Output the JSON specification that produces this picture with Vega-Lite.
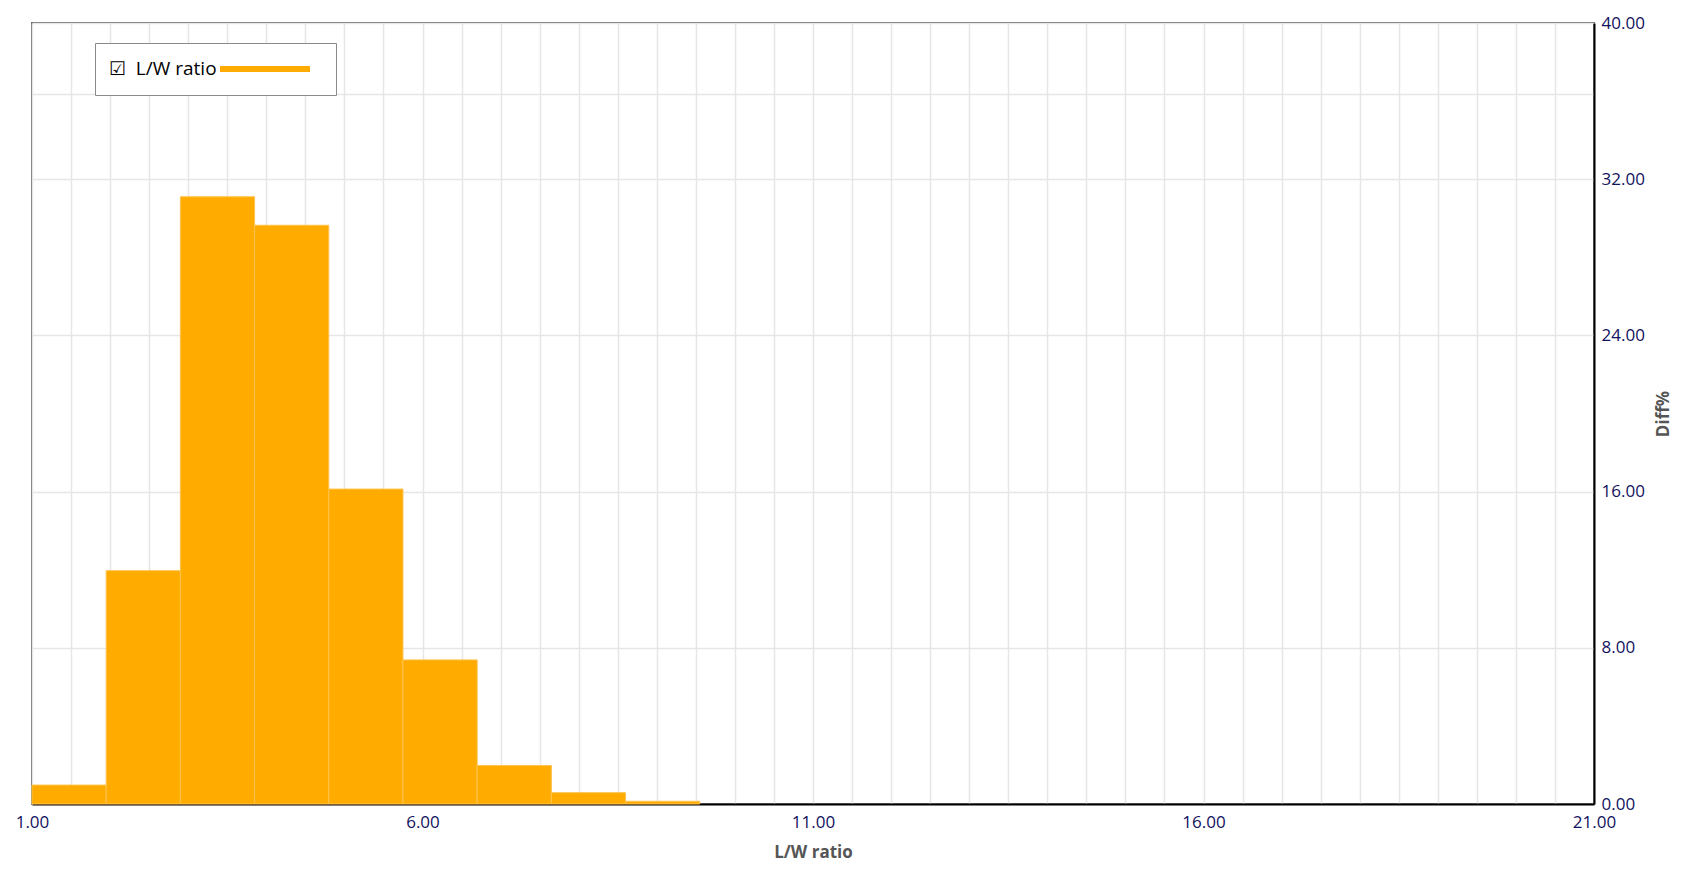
{
  "$schema": "https://vega.github.io/schema/vega-lite/v6.json",
  "width": 1562,
  "height": 781,
  "autosize": {"type": "none"},
  "padding": {"left": 32, "top": 23, "right": 97, "bottom": 72},
  "background": "white",
  "config": {
    "view": {"stroke": "#6a6a6a", "strokeWidth": 2},
    "font": "Open Sans"
  },
  "data": {
    "values": [
      {"start": 1.00, "end": 1.95, "pct": 0.97, "series": "L/W ratio"},
      {"start": 1.95, "end": 2.90, "pct": 11.95, "series": "L/W ratio"},
      {"start": 2.90, "end": 3.85, "pct": 31.10, "series": "L/W ratio"},
      {"start": 3.85, "end": 4.80, "pct": 29.64, "series": "L/W ratio"},
      {"start": 4.80, "end": 5.75, "pct": 16.13, "series": "L/W ratio"},
      {"start": 5.75, "end": 6.70, "pct": 7.38, "series": "L/W ratio"},
      {"start": 6.70, "end": 7.65, "pct": 1.97, "series": "L/W ratio"},
      {"start": 7.65, "end": 8.60, "pct": 0.58, "series": "L/W ratio"},
      {"start": 8.60, "end": 9.55, "pct": 0.14, "series": "L/W ratio"}
    ]
  },
  "mark": {"type": "bar", "stroke": "#ffc34d", "strokeWidth": 1},
  "encoding": {
    "x": {
      "field": "start",
      "type": "quantitative",
      "title": "L/W ratio",
      "scale": {"domain": [1, 21], "nice": false, "zero": false},
      "axis": {
        "values": [1, 1.5, 2, 2.5, 3, 3.5, 4, 4.5, 5, 5.5, 6, 6.5, 7, 7.5, 8, 8.5, 9, 9.5, 10, 10.5, 11, 11.5, 12, 12.5, 13, 13.5, 14, 14.5, 15, 15.5, 16, 16.5, 17, 17.5, 18, 18.5, 19, 19.5, 20, 20.5, 21],
        "labelExpr": "(datum.value - 1) % 5 == 0 ? format(datum.value, '.2f') : ''",
        "labelFlush": false,
        "labelOverlap": false,
        "ticks": false,
        "grid": true,
        "gridColor": "#e6e6e6",
        "gridWidth": 1.5,
        "domainColor": "#000000",
        "domainWidth": 2,
        "labelFontSize": 17,
        "labelColor": "#12125e",
        "labelPadding": 10,
        "titleFontSize": 17,
        "titleFontWeight": "bold",
        "titleColor": "#555555",
        "titlePadding": 14
      }
    },
    "x2": {"field": "end"},
    "y": {
      "field": "pct",
      "type": "quantitative",
      "title": "Diff%",
      "scale": {"domain": [0, 40], "nice": false},
      "axis": {
        "orient": "right",
        "values": [0, 8, 16, 24, 32, 36.36, 40],
        "labelExpr": "datum.value % 8 == 0 ? format(datum.value, '.2f') : ''",
        "labelFlush": false,
        "labelOverlap": false,
        "ticks": false,
        "grid": true,
        "gridColor": "#e6e6e6",
        "gridWidth": 1.5,
        "domainColor": "#000000",
        "domainWidth": 2,
        "labelFontSize": 17,
        "labelColor": "#12125e",
        "labelPadding": 7,
        "labelBaseline": "middle",
        "titleFontSize": 17,
        "titleFontWeight": "bold",
        "titleColor": "#555555",
        "titleAngle": 270,
        "titlePadding": 28
      }
    },
    "y2": {"datum": 0},
    "color": {
      "field": "series",
      "type": "nominal",
      "scale": {"range": ["#ffab00"]},
      "legend": {
        "title": "☑\u00a0\u00a0L/W ratio",
        "titleOrient": "left",
        "titleAngle": 0,
        "titleAnchor": "middle",
        "titleBaseline": "middle",
        "titleFont": "Open Sans",
        "titleFontSize": 19,
        "titleFontWeight": "normal",
        "titleColor": "#000000",
        "titlePadding": 0,
        "titleLimit": 300,
        "orient": "none",
        "legendX": 63,
        "legendY": 20,
        "fillColor": "white",
        "strokeColor": "#8a8a8a",
        "padding": 14,
        "columnPadding": 0,
        "symbolType": "M-1,0H9",
        "symbolSize": 324,
        "symbolStrokeWidth": 6,
        "symbolStrokeColor": "#ffab00",
        "labelExpr": "''",
        "labelOffset": 0
      }
    }
  }
}
